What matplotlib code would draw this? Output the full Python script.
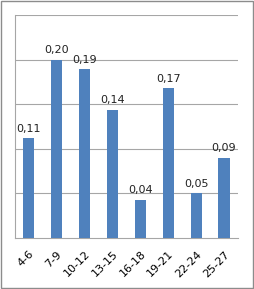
import matplotlib.pyplot as plt
from matplotlib.patches import Rectangle

# age groups and shares
groups = ['4-6', '7-9', '10-12', '13-15', '16-18', '19-21', '22-24', '25-27']
values = [0.112, 0.200, 0.189, 0.144, 0.043, 0.168, 0.050, 0.090]

bar_color = '#4F81BD'
grid_color = '#A6A6A6'

fig = plt.figure(figsize=(2.54, 2.89), dpi=100)
ax = fig.add_axes([0.059, 0.177, 0.878, 0.771])

x = range(len(groups))
ax.bar(x, values, width=0.4, color=bar_color, zorder=3)

# value labels with comma decimal separator
for xi, v in zip(x, values):
    ax.text(xi, v + 0.005, f'{v:.2f}'.replace('.', ','), ha='center', va='bottom',
            fontsize=8, color='#222222')

ax.set_ylim(0, 0.25)
ax.set_xlim(-0.5, len(groups) - 0.5)
ax.set_yticks([0.05, 0.10, 0.15, 0.20, 0.25])
ax.set_yticklabels([])
ax.tick_params(axis='y', length=0)
ax.grid(axis='y', color=grid_color, linewidth=0.8, zorder=0)

ax.set_xticks(list(x))
ax.set_xticklabels(groups, rotation=45, ha='right', rotation_mode='anchor', fontsize=8)
ax.tick_params(axis='x', length=0, pad=8)

for side in ['top', 'right']:
    ax.spines[side].set_visible(False)
ax.spines['left'].set_color(grid_color)
ax.spines['bottom'].set_color(grid_color)

# outer frame of the chart
fig.patches.append(Rectangle((0.004, 0.004), 0.992, 0.992, transform=fig.transFigure,
                             fill=False, edgecolor='#8C8C8C', linewidth=1))

fig.savefig('out.png', dpi=100)
